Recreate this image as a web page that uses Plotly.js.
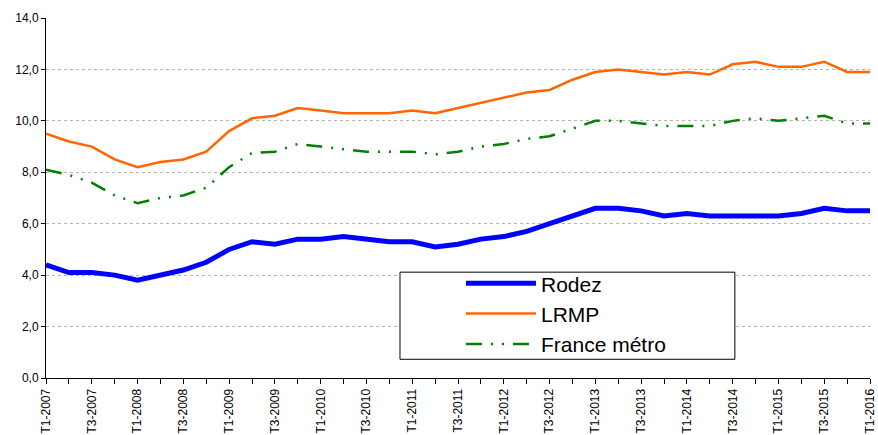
<!DOCTYPE html>
<html>
<head>
<meta charset="utf-8">
<script src="https://cdn.plot.ly/plotly-3.0.1.min.js"></script>
<style>html,body{margin:0;padding:0;background:#fff}#chart{width:878px;height:435px}</style>
</head>
<body>
<div id="chart"></div>
<script>
const quarters = ["T1-2007","T2-2007","T3-2007","T4-2007","T1-2008","T2-2008","T3-2008","T4-2008","T1-2009","T2-2009","T3-2009","T4-2009","T1-2010","T2-2010","T3-2010","T4-2010","T1-2011","T2-2011","T3-2011","T4-2011","T1-2012","T2-2012","T3-2012","T4-2012","T1-2013","T2-2013","T3-2013","T4-2013","T1-2014","T2-2014","T3-2014","T4-2014","T1-2015","T2-2015","T3-2015","T4-2015","T1-2016"];
const rodez = [4.4,4.1,4.1,4.0,3.8,4.0,4.2,4.5,5.0,5.3,5.2,5.4,5.4,5.5,5.4,5.3,5.3,5.1,5.2,5.4,5.5,5.7,6.0,6.3,6.6,6.6,6.5,6.3,6.4,6.3,6.3,6.3,6.3,6.4,6.6,6.5,6.5];
const lrmp = [9.5,9.2,9.0,8.5,8.2,8.4,8.5,8.8,9.6,10.1,10.2,10.5,10.4,10.3,10.3,10.3,10.4,10.3,10.5,10.7,10.9,11.1,11.2,11.6,11.9,12.0,11.9,11.8,11.9,11.8,12.2,12.3,12.1,12.1,12.3,11.9,11.9];
const france = [8.1,7.9,7.6,7.1,6.8,7.0,7.1,7.4,8.2,8.75,8.8,9.1,9.0,8.9,8.8,8.8,8.8,8.7,8.8,9.0,9.1,9.3,9.4,9.7,10.0,10.0,9.9,9.8,9.8,9.8,10.0,10.1,10.0,10.1,10.2,9.9,9.9];
const yTicks = [0,2,4,6,8,10,12,14];
const yTickText = ["0,0","2,0","4,0","6,0","8,0","10,0","12,0","14,0"];

const idx = quarters.map((q,i)=>i);
const labelIdx = idx.filter(i=>i%2===0);
const labelText = labelIdx.map(i=>quarters[i]);

const traces = [
  {x: idx, y: rodez, name: "Rodez", mode: "lines", line: {color: "#0000FF", width: 5}},
  {x: idx, y: lrmp, name: "LRMP", mode: "lines", line: {color: "#FF6600", width: 2.5}},
  {x: idx, y: france, name: "France métro", mode: "lines", line: {color: "#008000", width: 2.5, dash: "16px,9px,2px,9px,2px,9px"}}
];

const layout = {
  width: 878, height: 435,
  margin: {l: 46, r: 8, t: 18, b: 57},
  paper_bgcolor: "#fff", plot_bgcolor: "#fff",
  font: {family: "Liberation Sans, Arial, sans-serif", color: "#000", size: 12},
  showlegend: true,
  legend: {
    x: 0.5036, y: 0.319, xanchor: "left", yanchor: "top",
    borderwidth: 0, bgcolor: "rgba(0,0,0,0)",
    font: {size: 21, family: "Liberation Sans, Arial, sans-serif"},
    itemwidth: 70, tracegroupgap: 0
  },
  shapes: [{
    type: "rect", xref: "paper", yref: "paper",
    x0: 0.4296, x1: 0.836, y0: 0.052, y1: 0.294,
    line: {color: "#000", width: 1}, fillcolor: "#fff", layer: "above"
  }],
  xaxis: {
    range: [0, 36], tickmode: "array", tickvals: labelIdx, ticktext: labelText,
    tickangle: -90, ticks: "outside", ticklen: 5, tickcolor: "#000",
    ticklabeloverflow: "allow",
    minor: {dtick: 1, tick0: 0, ticks: "outside", ticklen: 5, tickcolor: "#000", showgrid: false},
    showline: true, linecolor: "#000", linewidth: 1, showgrid: false, zeroline: false,
    tickfont: {size: 12}, fixedrange: true
  },
  yaxis: {
    range: [0, 14], tickmode: "array", tickvals: yTicks, ticktext: yTickText,
    ticks: "outside", ticklen: 4, tickcolor: "#000",
    showline: true, linecolor: "#000", linewidth: 1,
    showgrid: true, gridcolor: "#b4b4b4", griddash: "dot", gridwidth: 1,
    zeroline: false, tickfont: {size: 12}, fixedrange: true
  }
};

Plotly.newPlot("chart", traces, layout, {displayModeBar: false, staticPlot: true});
</script>
</body>
</html>
